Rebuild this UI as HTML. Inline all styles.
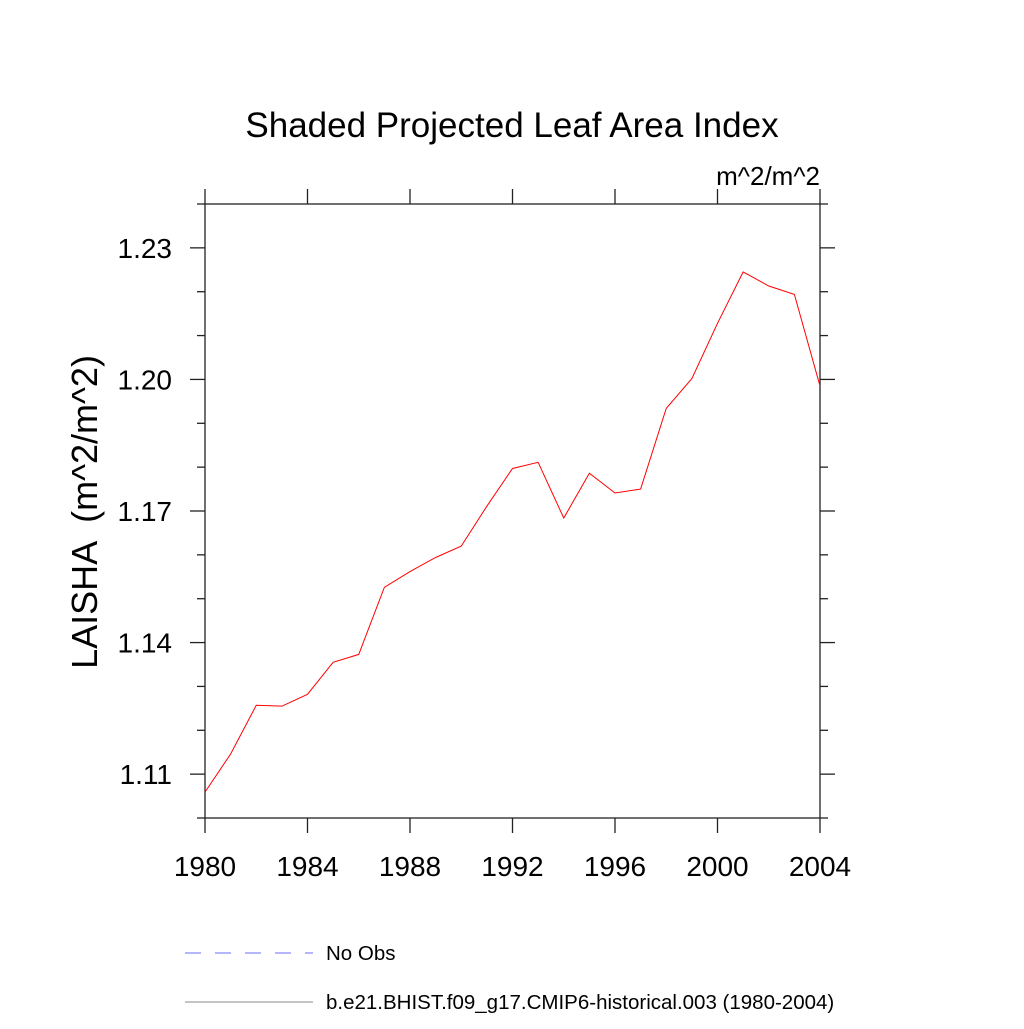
<!DOCTYPE html>
<html><head><meta charset="utf-8"><style>
body{margin:0;background:#fff;}
svg text{font-family:"Liberation Sans",sans-serif;}
</style></head><body>
<svg id="chart" width="1024" height="1024" viewBox="0 0 1024 1024">
<text x="512" y="137" font-size="35" text-anchor="middle">Shaded Projected Leaf Area Index</text>
<text x="820" y="185" font-size="26" text-anchor="end">m^2/m^2</text>
<text transform="translate(97,512) rotate(-90)" font-size="36" text-anchor="middle" xml:space="preserve">LAISHA  (m^2/m^2)</text>
<g id="axes"></g>
<g id="series"></g>
<line x1="185" y1="953" x2="313" y2="953" stroke="#6c6cff" stroke-width="1" stroke-dasharray="16,14"/>
<text x="326" y="960" font-size="20.5">No Obs</text>
<line x1="185" y1="1002" x2="313" y2="1002" stroke="#888" stroke-width="1"/>
<text x="326" y="1009" font-size="20.5">b.e21.BHIST.f09_g17.CMIP6-historical.003 (1980-2004)</text>
</svg>
<script>
const years=[1980,1981,1982,1983,1984,1985,1986,1987,1988,1989,1990,1991,1992,1993,1994,1995,1996,1997,1998,1999,2000,2001,2002,2003,2004];
const laisha=[1.1059,1.1146,1.1257,1.1255,1.1282,1.1355,1.1373,1.1526,1.1562,1.1594,1.1620,1.1711,1.1797,1.1811,1.1684,1.1786,1.1741,1.1750,1.1934,1.2002,1.2128,1.2245,1.2213,1.2194,1.1985];
const xTicks=[1980,1984,1988,1992,1996,2000,2004];
const yTicks=[1.11,1.14,1.17,1.20,1.23];
const yTickLabels=["1.11","1.14","1.17","1.20","1.23"];
const yMinor=[1.10,1.12,1.13,1.15,1.16,1.18,1.19,1.21,1.22,1.24];
const L=205,R=820,T=204,B=818;
const X0=1980,X1=2004,Y0=1.10,Y1=1.24;
const sx=v=>L+(v-X0)/(X1-X0)*(R-L);
const sy=v=>B-(v-Y0)/(Y1-Y0)*(B-T);
const NS="http://www.w3.org/2000/svg";
const ax=document.getElementById('axes');
function line(x1,y1,x2,y2,name){const l=document.createElementNS(NS,'line');
l.setAttribute('x1',x1);l.setAttribute('y1',y1);l.setAttribute('x2',x2);l.setAttribute('y2',y2);
l.setAttribute('stroke','#222');l.setAttribute('stroke-width','1.3');


ax.appendChild(l);}
function text(x,y,s,anchor,name){const t=document.createElementNS(NS,'text');
t.setAttribute('x',x);t.setAttribute('y',y);t.setAttribute('font-size','28');t.setAttribute('text-anchor',anchor);t.textContent=s;


ax.appendChild(t);}
const fr=document.createElementNS(NS,'rect');
fr.setAttribute('x',L);fr.setAttribute('y',T);fr.setAttribute('width',R-L);fr.setAttribute('height',B-T);
fr.setAttribute('fill','none');fr.setAttribute('stroke','#222');fr.setAttribute('stroke-width','1.3');


ax.appendChild(fr);
xTicks.forEach(v=>{const x=sx(v);line(x,B,x,B+15,'x-tick');line(x,T,x,T-15,'x-tick-top');text(x,B+58,String(v),'middle','x-tick-label');});
yTicks.forEach((v,i)=>{const y=sy(v);line(L-15,y,L,y,'y-tick');line(R,y,R+15,y,'y-tick-right');text(L-33,y+10,yTickLabels[i],'end','y-tick-label');});
yMinor.forEach(v=>{const y=sy(v);line(L-8,y,L,y,'y-minor-tick');line(R,y,R+8,y,'y-minor-tick-right');});
const p=document.createElementNS(NS,'polyline');
p.setAttribute('points',years.map((y,i)=>sx(y)+','+sy(laisha[i])).join(' '));
p.setAttribute('fill','none');p.setAttribute('stroke','#ff0000');p.setAttribute('stroke-width','1');


document.getElementById('series').appendChild(p);
</script>
</body></html>
